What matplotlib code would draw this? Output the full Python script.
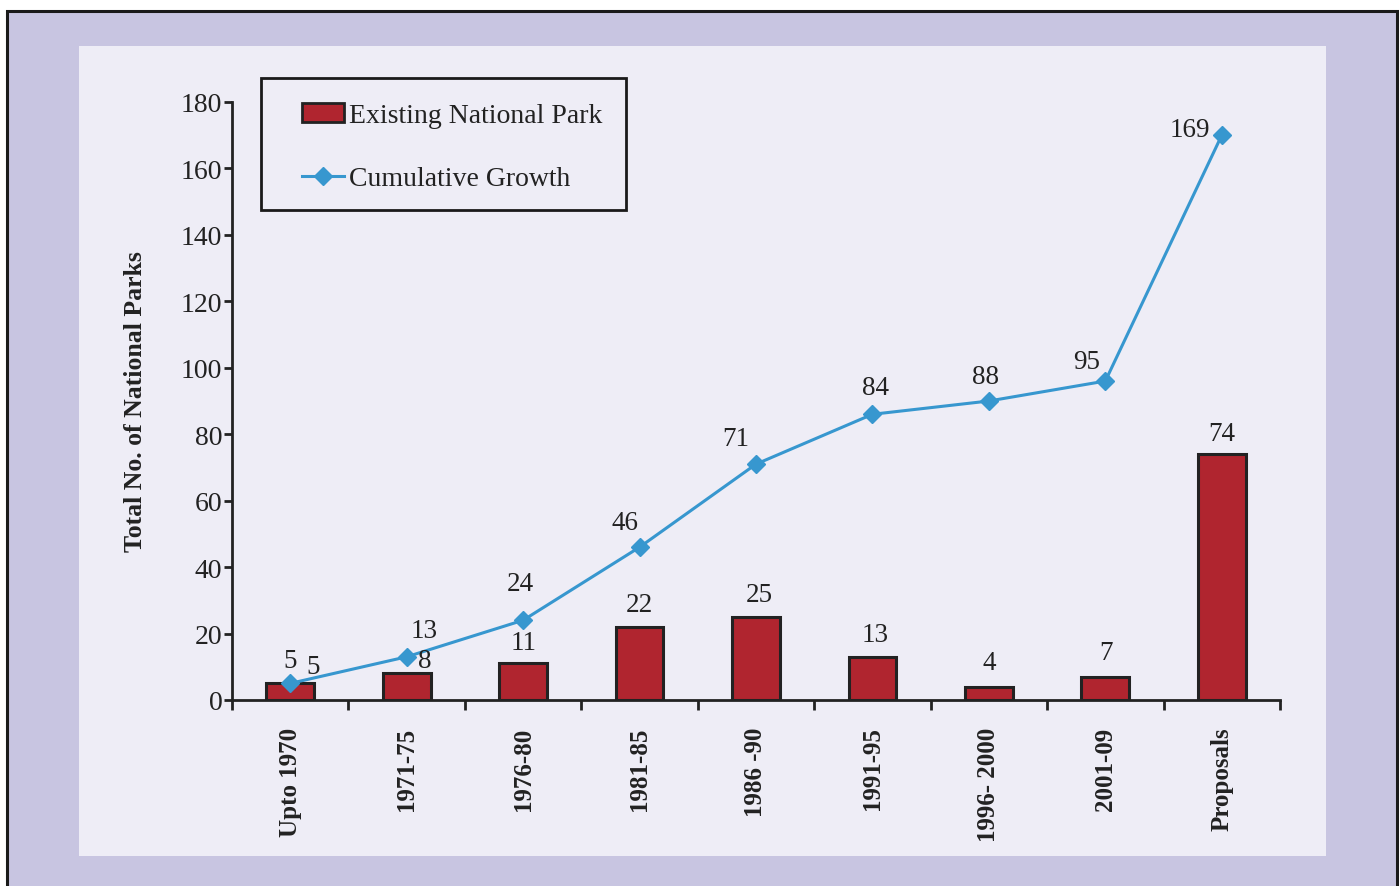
import matplotlib
matplotlib.use('Agg')
import matplotlib.pyplot as plt
from matplotlib.patches import Rectangle
from matplotlib.lines import Line2D
import numpy as np

# data
periods = ['Upto 1970', '1971-75', '1976-80', '1981-85', '1986 -90',
           '1991-95', '1996- 2000', '2001-09', 'Proposals']
parks = [5, 8, 11, 22, 25, 13, 4, 7, 74]
cumulative = [5, 13, 24, 46, 71, 86, 90, 96, 170]
cum_labels = ['5', '13', '24', '46', '71', '84', '88', '95', '169']

# label offsets in pixels (dx, dy) relative to bar top / line point
bar_off = [(23, 17), (18, 13), (0, 21), (0, 22), (3, 22), (3, 22), (0, 24), (1, 24), (0, 21)]
cum_off = [(0, 23), (17, 26), (-3, 37), (-15, 25), (-20, 26), (3, 27), (-3, 25), (-19, 20), (-32, 6)]

W, H = 1400, 887
plt.rcParams['font.family'] = ['Liberation Serif', 'DejaVu Serif']
fig = plt.figure(figsize=(W / 100, H / 100), dpi=100)
fig.patch.set_facecolor('white')

# outer lavender frame and inner light panel (pixel coords from top-left)
def px_rect(x0, y0, x1, y1, **kw):
    return Rectangle((x0 / W, 1 - y1 / H), (x1 - x0) / W, (y1 - y0) / H,
                     transform=fig.transFigure, **kw)

fig.patches.append(px_rect(7, 12, 1397, 900, facecolor='#c8c5e1', edgecolor='#1a1a1a',
                           linewidth=2.2, zorder=-2))
fig.patches.append(px_rect(79, 47, 1326, 857, facecolor='#eeedf6', edgecolor='none', zorder=-1))

ax = fig.add_axes([232 / W, 1 - 701 / H, (1280 - 232) / W, (701 - 103) / H])
ax.set_facecolor('none')
ax.set_zorder(2)

x = np.arange(len(periods))
bar_color = '#b0252f'
line_color = '#3797cf'

ax.bar(x, parks, width=0.41, color=bar_color, edgecolor='#222222', linewidth=2.2, zorder=2)
ax.plot(x, cumulative, color=line_color, linewidth=2.2, marker='D', markersize=9.5,
        markeredgecolor=line_color, zorder=3)

for i in range(len(x)):
    ax.annotate(str(parks[i]), (x[i], parks[i]), xytext=bar_off[i], textcoords='offset pixels',
                ha='center', va='center', fontsize=19.5, color='#222222')
    ax.annotate(cum_labels[i], (x[i], cumulative[i]), xytext=cum_off[i], textcoords='offset pixels',
                ha='center', va='center', fontsize=19.5, color='#222222')

ax.set_xlim(-0.5, len(periods) - 0.5)
ax.set_ylim(0, 180)
ax.set_yticks(range(0, 181, 20))
ax.set_xticks(x)
ax.set_xticklabels(periods, rotation=90, fontsize=18, fontweight='bold', color='#222222')
ax.set_xticks(np.arange(-0.5, len(periods)), minor=True)
ax.tick_params(axis='x', which='major', length=0, pad=19)
ax.tick_params(axis='x', which='minor', length=7, width=2, color='#222222', direction='out')
ax.tick_params(axis='y', length=6, width=2, color='#222222', labelsize=20, labelcolor='#222222', pad=1)
for side in ['top', 'right']:
    ax.spines[side].set_visible(False)
for side in ['left', 'bottom']:
    ax.spines[side].set_linewidth(2)
    ax.spines[side].set_color('#222222')

ax.set_ylabel('Total No. of National Parks', fontsize=18.5, fontweight='bold', color='#222222', labelpad=24)

# legend box
fig.patches.append(px_rect(261, 79, 626, 211, facecolor='#eeedf6', edgecolor='#1a1a1a', linewidth=2, zorder=5))
handles = [Rectangle((0, 0), 1, 1, facecolor=bar_color, edgecolor='#222222', linewidth=2),
           Line2D([], [], color=line_color, linewidth=2.2, marker='D', markersize=9.5)]
leg = fig.legend(handles, ['Existing National Park', 'Cumulative Growth'],
                 loc='upper left', bbox_to_anchor=(277 / W, 1 - 79 / H), frameon=False,
                 fontsize=20, labelspacing=1.35, handlelength=1.5, handleheight=0.7,
                 handletextpad=0.2, labelcolor='#222222')
leg.set_zorder(6)

fig.savefig('out.png', dpi=100, facecolor=fig.get_facecolor())
